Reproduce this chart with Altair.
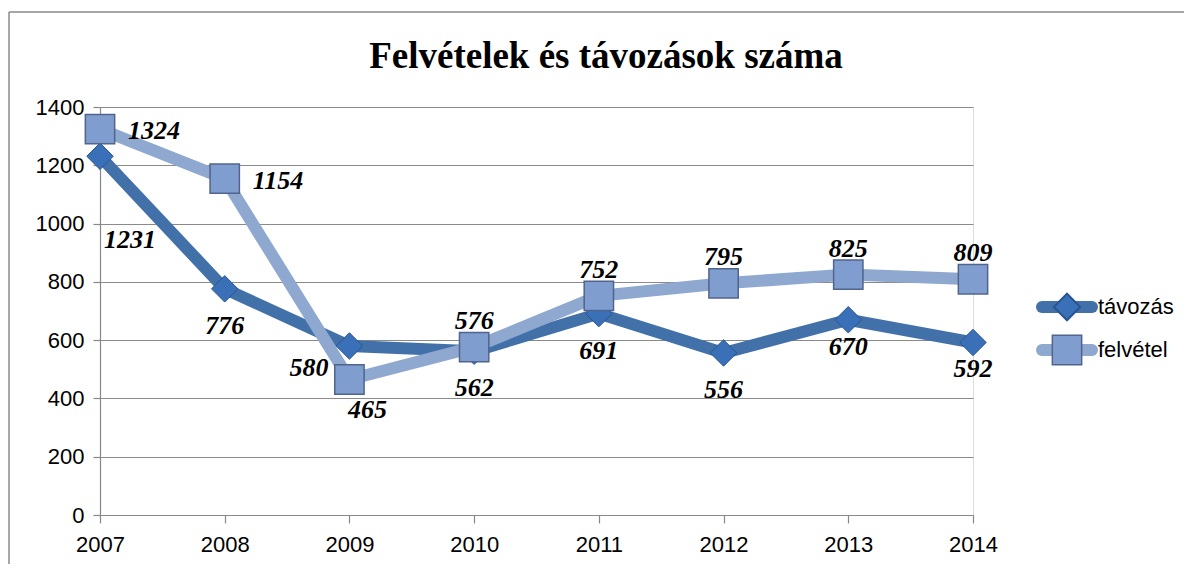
import altair as alt
import pandas as pd

years = ["2007", "2008", "2009", "2010", "2011", "2012", "2013", "2014"]
tavozas = [1231, 776, 580, 562, 691, 556, 670, 592]
felvetel = [1324, 1154, 465, 576, 752, 795, 825, 809]
series_names = ["távozás", "felvétel"]
title_text = "Felvételek és távozások száma"
y_ticks = [0, 200, 400, 600, 800, 1000, 1200, 1400]

df = pd.DataFrame({
    "year": years * 2,
    "value": tavozas + felvetel,
    "series": [series_names[0]] * len(years) + [series_names[1]] * len(years),
})

W, H = 873, 408
FONT = "Liberation Serif"
REG = "Liberation Sans"
DARK = "#4271AA"
LIGHT = "#8EA8D0"

x_enc = alt.X("year:O", scale=alt.Scale(type="point", padding=0), sort=years,
              axis=alt.Axis(title=None, labelAngle=0, grid=False, tickSize=8, labelPadding=11))
y_enc = alt.Y("value:Q", scale=alt.Scale(domain=[0, 1400], nice=False),
              axis=alt.Axis(title=None, values=y_ticks, format="d", grid=True, tickSize=7,
                            labelPadding=9))

base = alt.Chart(df).encode(x=x_enc, y=y_enc)

dark_f = alt.datum.series == series_names[0]
light_f = alt.datum.series == series_names[1]

line_dark = base.transform_filter(dark_f).mark_line(color=DARK, strokeWidth=12, strokeCap="round", strokeJoin="round")
line_light = base.transform_filter(light_f).mark_line(color=LIGHT, strokeWidth=12, strokeCap="round", strokeJoin="round")
pts_dark = base.transform_filter(dark_f).mark_point(shape="diamond", size=700, filled=True,
                                                    color="#3A70B8", stroke="#2A5690", strokeWidth=1, opacity=1)
pts_light = base.transform_filter(light_f).mark_point(shape="square", size=860, filled=True,
                                                      color="#809DD0", stroke="#50648C", strokeWidth=1.5, opacity=1)


def labels(series, yrs, dx, dy, align="center"):
    return base.transform_filter(alt.datum.series == series).transform_filter(
        alt.FieldOneOfPredicate(field="year", oneOf=yrs)
    ).mark_text(font=FONT, fontSize=26, fontWeight="bold", fontStyle="italic", color="black",
                dx=dx, dy=dy, align=align, baseline="middle").encode(text="value:Q")


lab = [
    labels(series_names[1], ["2007", "2008"], 28, 2, "left"),
    labels(series_names[1], ["2009"], 18, 31),
    labels(series_names[1], ["2010", "2011", "2012", "2013", "2014"], 0, -26),
    labels(series_names[0], ["2007"], 30, 84),
    labels(series_names[0], ["2009"], -21, 22, "right"),
    labels(series_names[0], ["2008", "2010", "2011", "2012"], 0, 37),
    labels(series_names[0], ["2013", "2014"], 0, 27),
]

title = alt.Chart(pd.DataFrame({"t": [title_text]})).mark_text(
    font=FONT, fontSize=37, fontWeight="bold", color="black", align="center", baseline="alphabetic"
).encode(text="t:N", x=alt.value(506), y=alt.value(-39))

# legend
leg_df = pd.DataFrame({"series": series_names, "ly": [200, 243]})
leg = alt.Chart(leg_df)
leg_color = alt.Color("series:N", scale=alt.Scale(domain=series_names, range=[DARK, LIGHT]), legend=None)
leg_lines = leg.mark_rule(strokeWidth=12, strokeCap="round").encode(
    x=alt.value(942), x2=alt.value(992), y=alt.Y("ly:Q", scale=None), color=leg_color)
leg_dia = leg.transform_filter(dark_f).mark_point(shape="diamond", size=700, filled=True,
                                                 color="#3A70B8", stroke="#2A5690", opacity=1).encode(
    x=alt.value(967), y=alt.Y("ly:Q", scale=None))
leg_sq = leg.transform_filter(light_f).mark_point(shape="square", size=860, filled=True,
                                                 color="#809DD0", stroke="#50648C", strokeWidth=1.5, opacity=1).encode(
    x=alt.value(967), y=alt.Y("ly:Q", scale=None))
leg_text = leg.mark_text(font=REG, fontSize=22, color="black", align="left", baseline="middle").encode(
    x=alt.value(998), y=alt.Y("ly:Q", scale=None), text="series:N")

# chart frame
frame_top = alt.Chart(pd.DataFrame({"a": [0]})).mark_rule(color="#8a8a8a", strokeWidth=1.5).encode(
    x=alt.value(-91), x2=alt.value(1100), y=alt.value(-95))
frame_left = alt.Chart(pd.DataFrame({"a": [0]})).mark_rule(color="#8a8a8a", strokeWidth=1.5).encode(
    x=alt.value(-91), y=alt.value(-95), y2=alt.value(600))

chart = alt.layer(
    frame_top, frame_left, title,
    line_dark, line_light, pts_dark, pts_light, *lab,
    leg_lines, leg_dia, leg_sq, leg_text,
).properties(
    width=W, height=H,
    autosize=alt.AutoSizeParams(type="none"),
    padding={"left": 92, "top": 99, "right": 211, "bottom": 49},
).configure_view(stroke=None).configure(background="white").configure_axis(
    labelFont=REG, labelFontSize=22, labelColor="black", domainColor="#888888",
    tickColor="#888888", gridColor="#8a8a8a", gridWidth=1.2, domainWidth=1.2, tickWidth=1.2
)

chart.save("out.html", embed_options={"renderer": "svg", "actions": False})
